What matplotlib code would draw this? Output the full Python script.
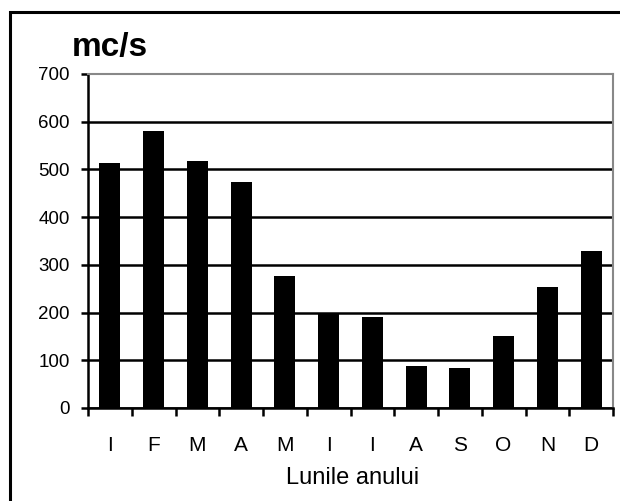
import matplotlib
matplotlib.use("Agg")
import matplotlib.pyplot as plt
import matplotlib.patches as patches
import numpy as np

# monthly discharge (mc/s)
months = ["I", "F", "M", "A", "M", "I", "I", "A", "S", "O", "N", "D"]
flow = [513, 580, 518, 473, 277, 200, 191, 88, 84, 151, 254, 328]
y_ticks = [0, 100, 200, 300, 400, 500, 600, 700]

plt.rcParams["font.family"] = ["Liberation Sans", "DejaVu Sans"]

W, H = 620, 501
fig = plt.figure(figsize=(W / 100, H / 100), dpi=100)
fig.patch.set_facecolor("white")

# plot area in pixel coords: x 88..613, y 74..408
ax = fig.add_axes([88 / W, 1 - 408 / H, (613 - 88) / W, (408 - 74) / H])

x = np.arange(len(months))
ax.bar(x, flow, width=0.48, color="black", zorder=3)

ax.set_xlim(-0.5, len(months) - 0.5)
ax.set_ylim(0, 700)
ax.set_yticks(y_ticks)
ax.set_yticklabels([str(v) for v in y_ticks], fontsize=13.5)
ax.set_xticks(x)
ax.set_xticklabels(months, fontsize=15)
ax.set_xticks(np.arange(len(months) + 1) - 0.5, minor=True)

ax.tick_params(axis="x", which="major", length=0, pad=20)
ax.tick_params(axis="x", which="minor", length=6, width=1.8, direction="out", color="black")
ax.tick_params(axis="y", which="major", length=5, width=1.8, direction="out", pad=8)

ax.yaxis.grid(True, color="black", linewidth=1.8, zorder=1)
ax.get_ygridlines()[-1].set_visible(False)
ax.set_axisbelow(True)

for side in ["left", "bottom"]:
    ax.spines[side].set_color("black")
    ax.spines[side].set_linewidth(1.8)
for side in ["top", "right"]:
    ax.spines[side].set_color("#888888")
    ax.spines[side].set_linewidth(1.5)

fig.text(72 / W, 1 - 56 / H, "mc/s", fontsize=24, fontweight="bold", va="baseline")
fig.text(353 / W, 1 - 478 / H, "Lunile anului", fontsize=17, ha="center", va="center")

# outer frame (right and bottom edges run off the image)
frame = patches.Rectangle((10 / W, -0.1), 1.0, 1 - 12 / H + 0.1, transform=fig.transFigure,
                          fill=False, edgecolor="black", linewidth=2.2)
fig.patches.append(frame)

fig.savefig("out.png", dpi=100, facecolor="white")
